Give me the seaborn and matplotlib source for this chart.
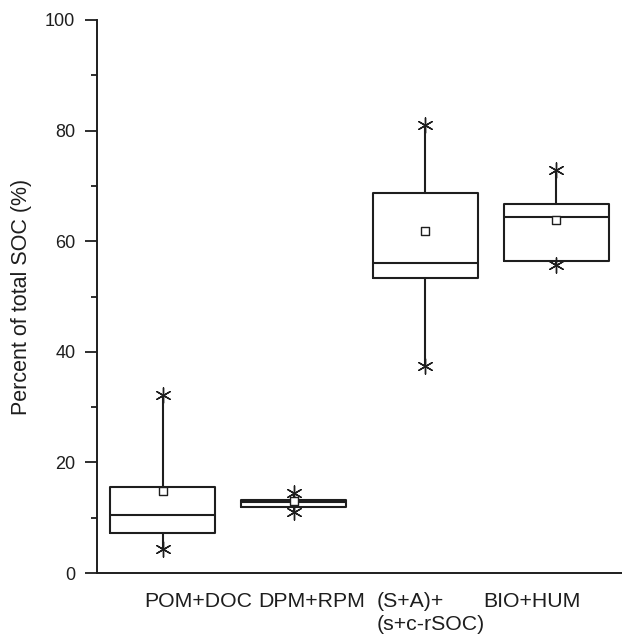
import numpy as np
import pandas as pd
import matplotlib
matplotlib.use("Agg")
import matplotlib.pyplot as plt
from matplotlib.transforms import ScaledTranslation
import seaborn as sns

# ---- data ----
categories = ["POM+DOC", "DPM+RPM", "(S+A)+\n(s+c-rSOC)", "BIO+HUM"]
q1_vals = [7.2, 11.9, 53.3, 56.5]
median_vals = [10.5, 12.9, 56.0, 64.4]
q3_vals = [15.6, 13.2, 68.8, 66.8]
mean_vals = [14.8, 13.0, 61.8, 63.8]
min_vals = [4.3, 11.0, 37.5, 55.7]
max_vals = [32.1, 14.4, 81.1, 72.9]
yticks = [0, 20, 40, 60, 80, 100]
ylabel = "Percent of total SOC (%)"

sns.set_theme(style="ticks")
plt.rcParams["font.family"] = ["Liberation Sans", "DejaVu Sans"]

ink = "#1e1e1e"
fig = plt.figure(figsize=(6.22, 6.37), dpi=100)
ax = fig.add_axes([97 / 622, 1 - 573 / 637, 1 - 97 / 622, (573 - 20) / 637])

stats = []
for i, c in enumerate(categories):
    stats.append(dict(label=c, q1=q1_vals[i], med=median_vals[i], q3=q3_vals[i],
                      whislo=min_vals[i], whishi=max_vals[i], mean=mean_vals[i], fliers=[]))

lw = 1.5
ax.bxp(stats, positions=range(len(categories)), widths=0.8, showcaps=False,
       showfliers=False, showmeans=False, patch_artist=False,
       boxprops=dict(color=ink, linewidth=lw),
       whiskerprops=dict(color=ink, linewidth=lw),
       medianprops=dict(color=ink, linewidth=lw))

pos = np.arange(len(categories))
ext = pd.DataFrame({"x": np.concatenate([pos, pos]),
                    "y": np.concatenate([min_vals, max_vals])})
means = pd.DataFrame({"x": pos, "y": mean_vals})

sns.scatterplot(data=ext, x="x", y="y", ax=ax, marker=(6, 2, 0), s=120,
                color=ink, linewidth=1.0, zorder=5, legend=False)
sns.scatterplot(data=means, x="x", y="y", ax=ax, marker="s", s=30,
                facecolor="white", edgecolor=ink, linewidth=1.0, zorder=6, legend=False)

ax.set_xlim(-0.5, 3.5)
ax.set_ylim(0, 100)
ax.set_yticks(yticks)
ax.set_yticks([10, 30, 50, 70, 90], minor=True)
ax.set_xticks(pos)
ax.set_xticklabels(categories, multialignment="left", linespacing=1.25)
ax.set_xlabel("")
ax.set_ylabel(ylabel, fontsize=15.5, color=ink, labelpad=9.5)

ax.tick_params(axis="y", which="major", length=8.6, width=1.3, color=ink,
               labelsize=13, labelcolor=ink, pad=7, direction="out")
ax.tick_params(axis="y", which="minor", length=4.3, width=1.3, color=ink, direction="out")
ax.tick_params(axis="x", length=0, labelsize=15.3, labelcolor=ink, pad=14)

for s in ["top", "right"]:
    ax.spines[s].set_visible(False)
for s in ["left", "bottom"]:
    ax.spines[s].set_color(ink)
    ax.spines[s].set_linewidth(1.4)
ax.grid(False)

offsets_px = [35.8, 17.4, 5.7, -24.0]
for lab, dx in zip(ax.get_xticklabels(), offsets_px):
    lab.set_transform(lab.get_transform() + ScaledTranslation(dx / 100, 0, fig.dpi_scale_trans))

fig.savefig("out.png", dpi=100)
